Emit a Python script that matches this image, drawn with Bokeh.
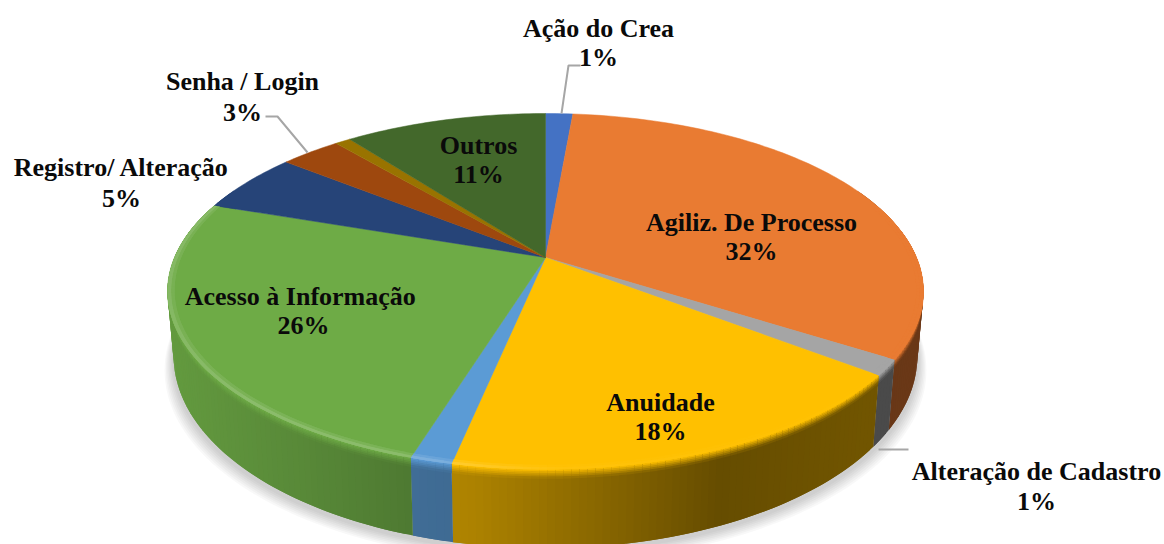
import numpy as np
from bokeh.plotting import figure
from bokeh.models import Range1d
from bokeh.core.properties import value
from bokeh.embed import file_html
from bokeh.resources import INLINE

# Data
categories = ["Ação do Crea", "Agiliz. De Processo", "Alteração de Cadastro", "Anuidade",
              "Sem rótulo", "Acesso  à Informação", "Registro/ Alteração", "Senha / Login",
              "Sem rótulo 2", "Outros"]
shares = [1.4, 32.6, 1.4, 17.9, 1.5, 25.4, 5.5, 3.1, 0.8, 10.4]
percent_labels = ["1%", "32%", "1%", "18%", "", "26%", "5%", "3%", "", "11%"]
top_colors = ["#4472C4", "#E97B32", "#A5A5A5", "#FFC000", "#5B9BD5", "#6EAB46",
              "#264478", "#9E480E", "#997300", "#43682B"]

# Page geometry: data coordinates equal screen pixels of the photograph
W, H = 1164, 544
p = figure(width=W, height=H, x_range=Range1d(0, W), y_range=Range1d(H, 0),
           toolbar_location=None, output_backend="svg", min_border=0,
           background_fill_color="white", border_fill_color="white", outline_line_color=None)
p.axis.visible = False
p.grid.visible = False

# Projective mapping of the disc
CX, CY, RX, RY, K = 545.0, 257.0, 371.0, 171.5, 0.191
CY2, RX2, RY2 = 319.0, 365.0, 185.0


def top(theta, r=1.0):
    u, v = r * np.sin(theta), r * np.cos(theta)
    w = 1 + K * v
    return CX + RX * u / w, CY - RY * v / w


def bottom(theta):
    u, v = np.sin(theta), np.cos(theta)
    w = 1 + K * v
    return CX + RX2 * u / w, CY2 - RY2 * v / w


def rgb(c):
    return np.array([int(c[i:i + 2], 16) for i in (1, 3, 5)], dtype=float)


def hexc(a):
    a = np.clip(a, 0, 255).round().astype(int)
    return "#%02x%02x%02x" % tuple(a)


def shade(x):
    return np.interp(x, [167, 300, 420, 470, 720, 930], [0.90, 0.80, 0.70, 0.68, 0.40, 0.46])


def highlight(x):
    return np.interp(x, [167, 250, 440, 560, 930], [0.16, 0.20, 0.20, 0.04, 0.0])


edges = np.cumsum([0] + shares) / sum(shares) * 2 * np.pi

# Soft shadow
t = np.linspace(0, 2 * np.pi, 240)
for i in range(7):
    sx, sy = bottom(t)
    grow = 1 + 0.0035 * (7 - i)
    p.patch(CX + (sx - CX) * grow, sy + 3 + (7 - i) * 1.6, fill_color="black", fill_alpha=0.028, line_color=None)

# Outer wall: overlapping quads, painted in order so no seams show
STEPS = 5
BLEND = 0.11
xs, ys, cols = [], [], []
for a0, a1, col in zip(edges[:-1], edges[1:], top_colors):
    n = max(2, int((a1 - a0) / np.radians(1.0)))
    ang = np.linspace(a0, a1, n + 1)
    base = rgb(col)
    for j in range(n):
        b0, b1 = ang[j], ang[min(j + 2, n)]
        if np.cos(b0) > 0.4 and np.cos(b1) > 0.4:
            continue
        tx0, ty0 = top(b0)
        tx1, ty1 = top(b1)
        bx0, by0 = bottom(b0)
        bx1, by1 = bottom(b1)
        mx = top(ang[j] / 2 + ang[j + 1] / 2)[0]
        wall = base * shade(mx)
        xs.append([tx0, tx1, bx1, bx0])
        ys.append([ty0, ty1, by1, by0])
        cols.append(hexc(wall))
        for s in range(STEPS):
            f0, f1 = BLEND * s / STEPS, BLEND * (s + 1.4) / STEPS
            m = (s + 0.5) / STEPS
            xs.append([tx0 + (bx0 - tx0) * f0, tx1 + (bx1 - tx1) * f0, tx1 + (bx1 - tx1) * f1, tx0 + (bx0 - tx0) * f1])
            ys.append([ty0 + (by0 - ty0) * f0, ty1 + (by1 - ty1) * f0, ty1 + (by1 - ty1) * f1, ty0 + (by0 - ty0) * f1])
            cols.append(hexc(base * (1 - m) + wall * m))
p.patches(xs, ys, fill_color=cols, line_color=None)

# Top face
for a0, a1, col in zip(edges[:-1], edges[1:], top_colors):
    ang = np.linspace(a0, a1, max(3, int((a1 - a0) / np.radians(1)) + 1))
    ex, ey = top(ang)
    p.patch(np.r_[CX, ex], np.r_[CY, ey], fill_color=col, line_color=col, line_width=0.5)

# Light bevel along the front rim: a soft outer band, then a brighter narrow one
for RIM, STRENGTH in ((0.982, 0.45), (0.991, 1.0)):
    xs, ys, cols = [], [], []
    for a0, a1, col in zip(edges[:-1], edges[1:], top_colors):
        n = max(2, int((a1 - a0) / np.radians(1.0)))
        ang = np.linspace(a0, a1, n + 1)
        base = rgb(col)
        for j in range(n):
            b0, b1 = ang[j], ang[min(j + 2, n)]
            if np.cos(b0) > 0.3 and np.cos(b1) > 0.3:
                continue
            x0, y0 = top(b0)
            x1, y1 = top(b1)
            h = highlight(top(ang[j])[0]) * STRENGTH
            xi0, yi0 = top(b0, RIM)
            xi1, yi1 = top(b1, RIM)
            xs.append([x0, x1, xi1, xi0])
            ys.append([y0, y1, yi1, yi0])
            cols.append(hexc(base + (255 - base) * h))
    p.patches(xs, ys, fill_color=cols, line_color=None)

# Leader lines
p.line([561, 568, 580], [113, 65, 65], line_color="#A6A6A6", line_width=2)
p.line([307, 277, 265], [152, 116, 116], line_color="#A6A6A6", line_width=2)
p.line([878, 908], [449, 449], line_color="#A6A6A6", line_width=2)

# Labels: centre x, y of name, y of percent
label_pos = {
    0: (598, 28, 57), 1: (751, 222, 251), 2: (1036, 471, 501), 3: (660, 402, 431),
    5: (303, 296, 325), 6: (121, 167, 198), 7: (242, 81, 112), 9: (478, 145, 174),
}
lx, ly, lt = [], [], []
for i, (x, y0, y1) in label_pos.items():
    lx += [x, x]
    ly += [y0, y1]
    lt += [categories[i], percent_labels[i]]
p.text(lx, ly, text=lt, text_align="center", text_baseline="middle",
       text_font=value("Liberation Serif"), text_font_style="bold", text_font_size="26px", text_color="#0a0a0a")

open("out.html", "w").write(file_html(p, INLINE))
